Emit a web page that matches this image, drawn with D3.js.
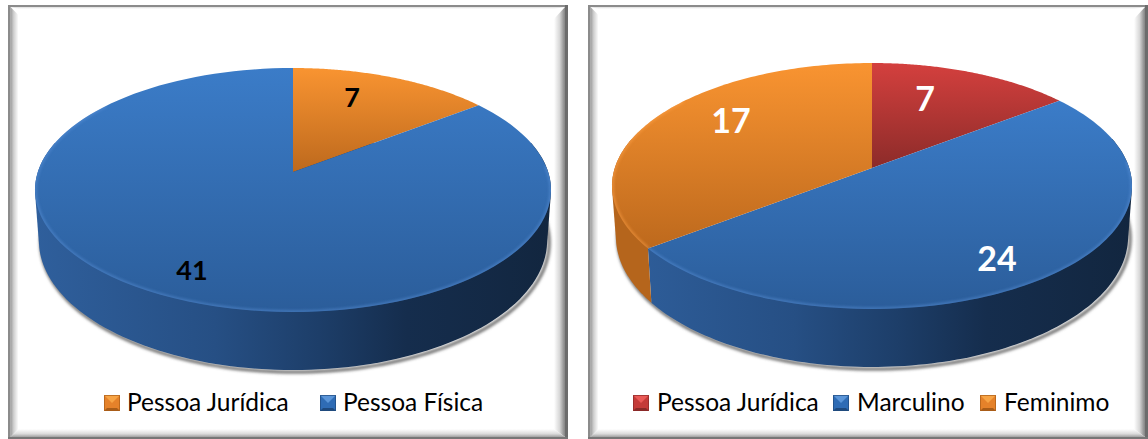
<!DOCTYPE html>
<html><head><meta charset="utf-8">
<script src="https://cdn.jsdelivr.net/npm/d3@7"></script>
<style>html,body{margin:0;padding:0;background:#fff;overflow:hidden}svg{display:block}text{font-family:Lato,"Open Sans",sans-serif}</style>
</head><body><svg id="c" width="1148" height="439"></svg>
<script>
// Data
const leftCategories = ["Pessoa Jurídica", "Pessoa Física"];
const leftValues = [7, 41];
const rightCategories = ["Pessoa Jurídica", "Marculino", "Feminimo"];
const rightValues = [7, 24, 17];

// Styles / layout (separate from data)
const palette = {
  orange: {top:["#f99431","#bd691d"], side:"#b5651c", sw:["#f7a445","#e5822a","#a95d18"]},
  blue:   {top:["#3b7cc8","#2b5d9a"], sw:["#5b95d8","#2f6cb5","#1f4a7e"]},
  red:    {top:["#d4403e","#8c2b29"], side:"#8c2b29", sw:["#ea5a57","#c43b39","#8a2a28"]}
};
const panels = [
 {frame:{x:8,y:5,w:560,h:434}, cx:293, cy:172, top:68, bot:312, rx:258, depth:49.5,
  cats:leftCategories, vals:leftValues, colors:["orange","blue"], labelColor:"#000", labelSize:27,
  labelOff:[[59,-76],[-101,97]], legend:[[104,127],[320,343]]},
 {frame:{x:588,y:5,w:560,h:434}, cx:872, cy:168, top:63, bot:309, rx:260, depth:49.5,
  cats:rightCategories, vals:rightValues, colors:["red","blue","orange"], labelColor:"#fff", labelSize:34,
  labelOff:[[53,-71],[125,89],[-141,-49]], legend:[[633,657],[833,857],[980,1004]]}
];
const svg = d3.select("#c"), defs = svg.append("defs");
defs.append("filter").attr("id","soft").attr("x","-5%").attr("y","-5%").attr("width","110%").attr("height","110%")
  .append("feGaussianBlur").attr("stdDeviation",1.5);
defs.append("filter").attr("id","soft2").attr("x","-5%").attr("y","-5%").attr("width","110%").attr("height","110%")
  .append("feGaussianBlur").attr("stdDeviation",1.5);

let uid = 0;
function grad(stops, x1,y1,x2,y2, user){
  const id = "g"+(uid++);
  const g = defs.append("linearGradient").attr("id",id).attr("x1",x1).attr("y1",y1).attr("x2",x2).attr("y2",y2);
  if(user) g.attr("gradientUnits","userSpaceOnUse");
  stops.forEach(([o,c])=>g.append("stop").attr("offset",o).attr("stop-color",c));
  return `url(#${id})`;
}

function drawFrame(f){
  const g = svg.append("g");
  const L=f.x, T=f.y, R=f.x+f.w, B=f.y+f.h;
  const lw=2.5, tw=2, rw=3, bw=2;
  const iL=L+lw, iT=T+tw, iR=R-rw, iB=B-bw;
  const bl=8, bt=2, br=11, bb=8;
  g.append("rect").attr("x",L).attr("y",T).attr("width",f.w).attr("height",f.h).attr("fill","#fff");
  const poly=(pts,fill)=>g.append("path").attr("d",d3.line()(pts)+"Z").attr("fill",fill);
  poly([[iL,iT],[iL+bl,iT+bt+6],[iL+bl,iB-bb],[iL,iB]], grad([[0,"#9a9a9a"],[0.4,"#cfcfcf"],[1,"#ffffff"]],iL,0,iL+bl,0,true));
  poly([[iR,iT],[iR-br,iT+bt+10],[iR-br,iB-bb],[iR,iB]], grad([[0,"#ffffff"],[0.5,"#d8d8d8"],[0.85,"#9a9a9a"],[1,"#858585"]],iR-br,0,iR,0,true));
  poly([[iL,iB],[iL+bl,iB-bb],[iR-br,iB-bb],[iR,iB]], grad([[0,"#ffffff"],[0.6,"#dcdcdc"],[1,"#a0a0a0"]],0,iB-bb,0,iB,true));
  poly([[iL,iT],[iL+bl,iT+bt],[iR-br,iT+bt],[iR,iT]], grad([[0,"#dcdcdc"],[1,"#ffffff"]],0,iT,0,iT+bt,true));
  // outer rule
  g.append("rect").attr("x",L).attr("y",T).attr("width",lw).attr("height",f.h).attr("fill","#8b8b8b");
  g.append("rect").attr("x",L).attr("y",T).attr("width",f.w).attr("height",tw).attr("fill","#8b8b8b");
  g.append("rect").attr("x",R-rw).attr("y",T).attr("width",rw).attr("height",f.h).attr("fill","#6c6c6c");
  g.append("rect").attr("x",L).attr("y",B-bw).attr("width",f.w).attr("height",bw).attr("fill","#777");
}

function drawPie(p){
  drawFrame(p.frame);
  const g = svg.append("g");
  // perspective projection of a unit disc (u right, v towards viewer)
  const k = (p.top + p.bot - 2*p.cy) / (p.bot - p.top);
  const a = p.bot*(1-k) - p.cy;
  const s = p.rx*Math.sqrt(1-k*k);
  const proj = (th, plane) => {
    const u = Math.sin(th), v = -Math.cos(th), w = 1-k*v;
    return plane===0
      ? [p.cx + s*u/w, (p.cy + a*v)/w]
      : [p.cx + 0.985*s*u/w, (p.cy + a*v)/w + p.depth/w];
  };
  const pie = d3.pie().sort(null).value(d=>d)(p.vals);
  const line = d3.line();
  const arcPts = (a0,a1,plane)=> d3.range(0,121).map(i=>proj(a0+(a1-a0)*i/120,plane));
  const sideGrad = grad([[0,"#2f5f9c"],[0.35,"#264f84"],[0.55,"#1d3e69"],[0.72,"#152d4d"],[1,"#12263f"]],p.cx-p.rx,0,p.cx+p.rx,0,true);
  const full = arcPts(0,2*Math.PI,0);
  const lo=Math.PI*0.42, hi=Math.PI*1.58;

  // soft shadow under the wall
  const silhouette = line(arcPts(lo,hi,1).map(([x,y])=>[x+2,y+2]));
  g.append("path").attr("d",silhouette).attr("fill","none").attr("stroke","#666").attr("stroke-width",3).attr("filter","url(#soft2)");

  // walls: convex hull of the slice's top and bottom arcs (back to front)
  pie.map((d,i)=>({d,i})).sort((x,y)=>(y.d.startAngle<lo?1:0)-(x.d.startAngle<lo?1:0)).forEach(({d,i})=>{
    const a0=Math.max(d.startAngle,lo), a1=Math.min(d.endAngle,hi);
    if(a1<=a0) return;
    const c = palette[p.colors[i]];
    const fill = p.colors[i]==="blue" ? sideGrad : c.side;
    const hull = d3.polygonHull([...arcPts(a0,a1,0),...arcPts(a0,a1,1)]);
    g.append("path").attr("d",line(hull)+"Z").attr("fill",fill);
  });

  // top face slices
  pie.forEach((d,i)=>{
    const c = palette[p.colors[i]];
    const pts = [[p.cx,p.cy],...arcPts(d.startAngle,d.endAngle,0)];
    g.append("path").attr("d",line(pts)+"Z").attr("fill",grad([[0,c.top[0]],[1,c.top[1]]],0,0,0,1));
  });

  // bevelled rim: only along the front of the disc
  const clipId="clip"+(uid++);
  defs.append("clipPath").attr("id",clipId).append("path").attr("d",line(full)+"Z");
  const rim = g.append("g").attr("clip-path",`url(#${clipId})`);
  pie.forEach((d,i)=>{
    const name=p.colors[i];
    const rimCol = name==="blue" ? "#5b92d8" : name==="orange" ? "#ffa24a" : "#ee7a78";
    const a0=Math.max(d.startAngle,lo*1.15), a1=Math.min(d.endAngle,hi+(2*Math.PI-hi)*0.3);
    if(a1>a0) rim.append("path").attr("d",line(arcPts(a0,a1,0))).attr("fill","none")
      .attr("stroke",rimCol).attr("stroke-width",3).attr("filter","url(#soft)").attr("opacity",0.6);
  });

  // data labels
  pie.forEach((d,i)=>{
    g.append("text").attr("x",p.cx+p.labelOff[i][0]).attr("y",p.cy+p.labelOff[i][1])
     .attr("text-anchor","middle").attr("dominant-baseline","central")
     .attr("font-size",p.labelSize).attr("font-weight",700).attr("fill",p.labelColor).text(d.data);
  });

  // legend
  const size=16, y0=395;
  p.cats.forEach((cat,i)=>{
    const c=palette[p.colors[i]], x=p.legend[i][0], tx=p.legend[i][1];
    const lg=g.append("g");
    lg.append("rect").attr("x",x).attr("y",y0).attr("width",size).attr("height",size).attr("fill",c.sw[1]);
    lg.append("path").attr("d",line([[x,y0],[x+size,y0],[x+size/2,y0+size/2]])+"Z").attr("fill",c.sw[0]);
    lg.append("path").attr("d",line([[x,y0+size],[x+size,y0+size],[x+size-3,y0+size-3],[x+3,y0+size-3]])+"Z").attr("fill",c.sw[2]);
    lg.append("rect").attr("x",x+.5).attr("y",y0+.5).attr("width",size-1).attr("height",size-1).attr("fill","none").attr("stroke",c.sw[2]).attr("stroke-opacity",.7);
    g.append("text").attr("x",tx).attr("y",y0+16).attr("font-size",24.5).attr("fill","#000").text(cat);
  });
}
panels.forEach(drawPie);
</script></body></html>
